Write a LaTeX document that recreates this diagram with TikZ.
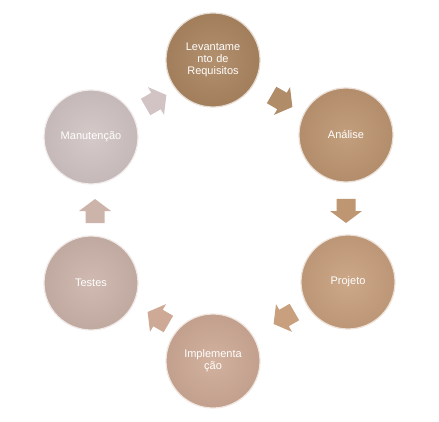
\documentclass[tikz,border=0pt]{standalone}
\usepackage{fontspec}
\setmainfont{Liberation Sans}
\begin{document}
\begin{tikzpicture}[x=1pt,y=1pt,
  stage/.style={circle,minimum size=94pt,inner sep=0pt,text=white,
    font=\fontsize{11}{12}\selectfont,align=center,text width=66pt,
    draw=white!70!#1,line width=1.2pt,inner color=#1!92!white,outer color=#1!94!black},
  barrow/.pic={\fill[pic actions] (-12,-9.5) -- (0,-9.5) -- (0,-16) -- (12,0) -- (0,16) -- (0,9.5) -- (-12,9.5) -- cycle;}
]
\definecolor{cLev}{RGB}{172,134,97}
\definecolor{cAna}{RGB}{190,150,114}
\definecolor{cPro}{RGB}{200,160,126}
\definecolor{cImp}{RGB}{206,170,150}
\definecolor{cTes}{RGB}{204,180,170}
\definecolor{cMan}{RGB}{210,196,196}
\useasboundingbox (0,0) rectangle (439,421);
\fill[white] (0,0) rectangle (439,421);
% arrows
\pic[fill=cLev!95!white,rotate=-30] (aTR) at (282,320) {barrow};
\pic[fill=cAna,rotate=-90] (aR) at (346,210) {barrow};
\pic[fill=cPro,rotate=-150] (aBR) at (284,103) {barrow};
\pic[fill=cImp,rotate=150] (aBL) at (158,103) {barrow};
\pic[fill=cTes,rotate=90] (aL) at (95,210) {barrow};
\pic[fill=cMan,rotate=30] (aTL) at (156,320) {barrow};
% stages
\node[stage=cLev] (lev) at (213,361) {Levantame\\nto de\\Requisitos};
\node[stage=cAna] (ana) at (346,286) {Análise};
\node[stage=cPro] (pro) at (348,139) {Projeto};
\node[stage=cImp] (imp) at (213,60) {Implementa\\ção};
\node[stage=cTes] (tes) at (91,138) {Testes};
\node[stage=cMan] (man) at (91,284) {Manutenção};
\end{tikzpicture}
\end{document}
